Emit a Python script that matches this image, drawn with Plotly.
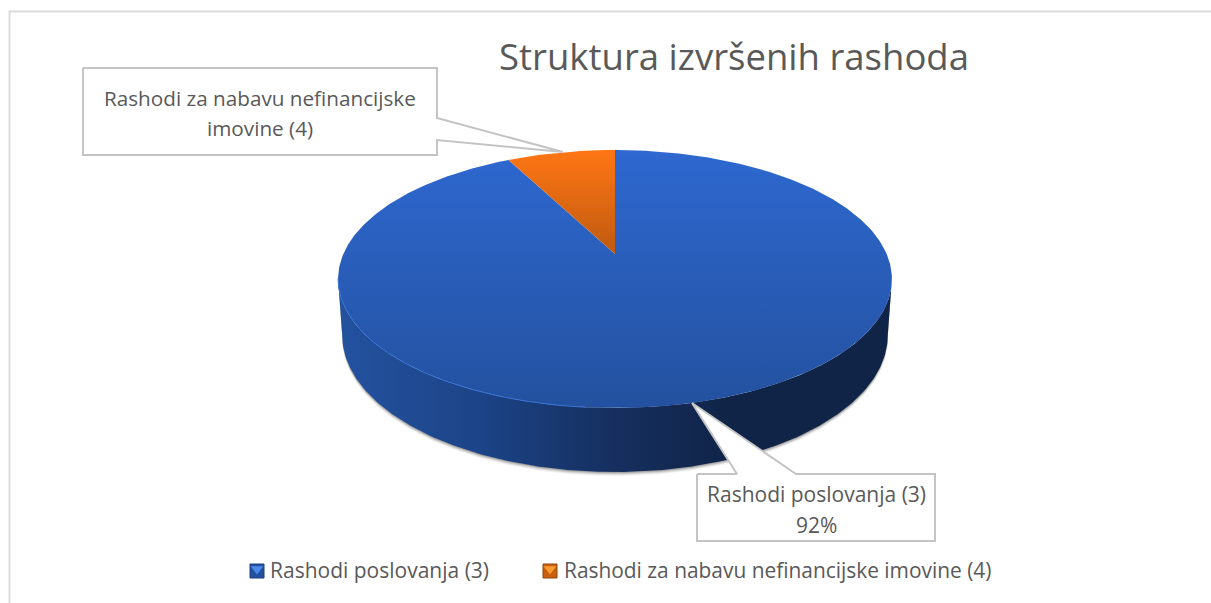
import numpy as np
import plotly.graph_objects as go

# --- data ---
TITLE = "Struktura izvršenih rashoda"
CATEGORIES = ["Rashodi poslovanja (3)", "Rashodi za nabavu nefinancijske imovine (4)"]
VALUES = [92.4, 7.6]
LABEL_A_LINES = ["Rashodi za nabavu nefinancijske", "imovine (4)"]
LABEL_B_NAME = "Rashodi poslovanja (3)"

# --- styles / layout ---
W, H = 1211, 603
FONT = "Open Sans"
TXT = "#595959"
CX, CY0, A, HH, K = 615, 254, 271.7, 124.15, 0.1938
TOP_CY, TOP_RY = 279, 129
BOT_CY, BOT_RY, BOT_SCALE = 335, 137, 0.985


def project(theta_deg):
    """Clockwise from 12 o'clock on the pie plane -> screen position (perspective)."""
    t = np.radians(theta_deg)
    u, v = np.sin(t), np.cos(t)
    w = 1 + K * v
    return CX + A * u / w, CY0 - HH * v / w


def arc(start, stop, n=240):
    return project(np.linspace(start, stop, n))


fig = go.Figure()


def poly(x, y, **kw):
    kw.setdefault("line", dict(width=0))
    fig.add_trace(go.Scatter(x=list(x), y=list(y), mode="lines", fill="toself",
                             hoverinfo="skip", showlegend=False, **kw))


# frame of the chart area
fig.add_trace(go.Scatter(x=[W, 9.5, 9.5], y=[11.5, 11.5, H], mode="lines",
                         line=dict(color="#dcdcdc", width=2), hoverinfo="skip", showlegend=False))

total = sum(VALUES)
orange_deg = 360 * VALUES[1] / total

# side wall (front part, between the two silhouette tangents)
xf, yf = arc(101, 259)
xb = CX + (xf - CX) * BOT_SCALE
yb = BOT_CY + (yf - TOP_CY) * BOT_RY / TOP_RY
for off, alpha in [(4, 0.08), (3, 0.12), (2, 0.2), (1, 0.3)]:
    poly(np.r_[xf, xb[::-1]], np.r_[yf, yb[::-1] + off], fillcolor=f"rgba(90,90,90,{alpha})")
poly(np.r_[xf, xb[::-1]], np.r_[yf, yb[::-1]],
     fillgradient=dict(type="horizontal", start=338, stop=892,
                       colorscale=[[0, "#24529f"], [0.25, "#1c4488"], [0.5, "#162f5f"],
                                   [0.7, "#102448"], [1, "#102448"]]))

# top: large slice
xa, ya = arc(0, 360 - orange_deg, 600)
poly(np.r_[CX, xa, CX], np.r_[CY0, ya, CY0],
     fillgradient=dict(type="vertical", start=150, stop=408,
                       colorscale=[[0, "#2e68d0"], [1, "#23519f"]]))
# rim highlight (lit side only)
xh, yh = arc(185, 259)
fig.add_trace(go.Scatter(x=xh, y=yh, mode="lines", line=dict(color="#3a72d6", width=1),
                         hoverinfo="skip", showlegend=False))
# top: small slice
xo, yo = arc(360 - orange_deg, 360)
poly(np.r_[CX, xo, CX], np.r_[CY0, yo, CY0],
     fillgradient=dict(type="vertical", start=150, stop=254,
                       colorscale=[[0, "#ff7614"], [1, "#bf5a10"]]))

# callouts
BOX = dict(fillcolor="white", line=dict(color="#c4c4c4", width=2))
poly([83, 437, 437, 563, 437, 437, 83, 83], [68, 68, 118, 152, 140, 155, 155, 68], **BOX)
poly([697, 737, 692, 796, 935, 935, 697, 697], [474, 474, 403, 474, 474, 541, 541, 474], **BOX)

# legend swatches + entries
LEG_X = [257, 550]
LEG_TX = [268, 562]
SW = [("#23519f", "#1c3f7d", "#4a8ae6"), ("#c9600f", "#8f470d", "#f79a32")]
for i, name in enumerate(CATEGORIES):
    fig.add_trace(go.Scatter(x=[LEG_X[i]], y=[571], mode="markers",
                             marker=dict(symbol="square", size=14, color=SW[i][0],
                                         line=dict(color=SW[i][1], width=1)),
                             name=name, hoverinfo="skip", showlegend=False))
    fig.add_trace(go.Scatter(x=[LEG_X[i]], y=[569], mode="markers",
                             marker=dict(symbol="triangle-down", size=11, color=SW[i][2]),
                             hoverinfo="skip", showlegend=False))


def text(x, y, s, size=21, anchor="center"):
    fig.add_annotation(x=x, y=y, text=s, showarrow=False, xanchor=anchor, yanchor="middle",
                       font=dict(family=FONT, size=size, color=TXT))


text(734, 56, TITLE, size=36.5)
text(260, 98, LABEL_A_LINES[0], size=20.7)
text(260, 128, LABEL_A_LINES[1], size=20.7)
text(816, 494, LABEL_B_NAME)
text(816, 525, f"{VALUES[0] / total:.0%}")
text(LEG_TX[0], 570, CATEGORIES[0], anchor="left")
text(LEG_TX[1], 570, CATEGORIES[1], anchor="left", size=20.9)

fig.update_layout(
    width=W, height=H, margin=dict(l=0, r=0, t=0, b=0),
    paper_bgcolor="white", plot_bgcolor="white", showlegend=False,
    xaxis=dict(range=[0, W], visible=False, fixedrange=True),
    yaxis=dict(range=[H, 0], visible=False, fixedrange=True),
)
fig.write_html("out.html", config=dict(displayModeBar=False),
               post_script="document.body.style.margin='0';document.body.style.overflow='hidden';")
